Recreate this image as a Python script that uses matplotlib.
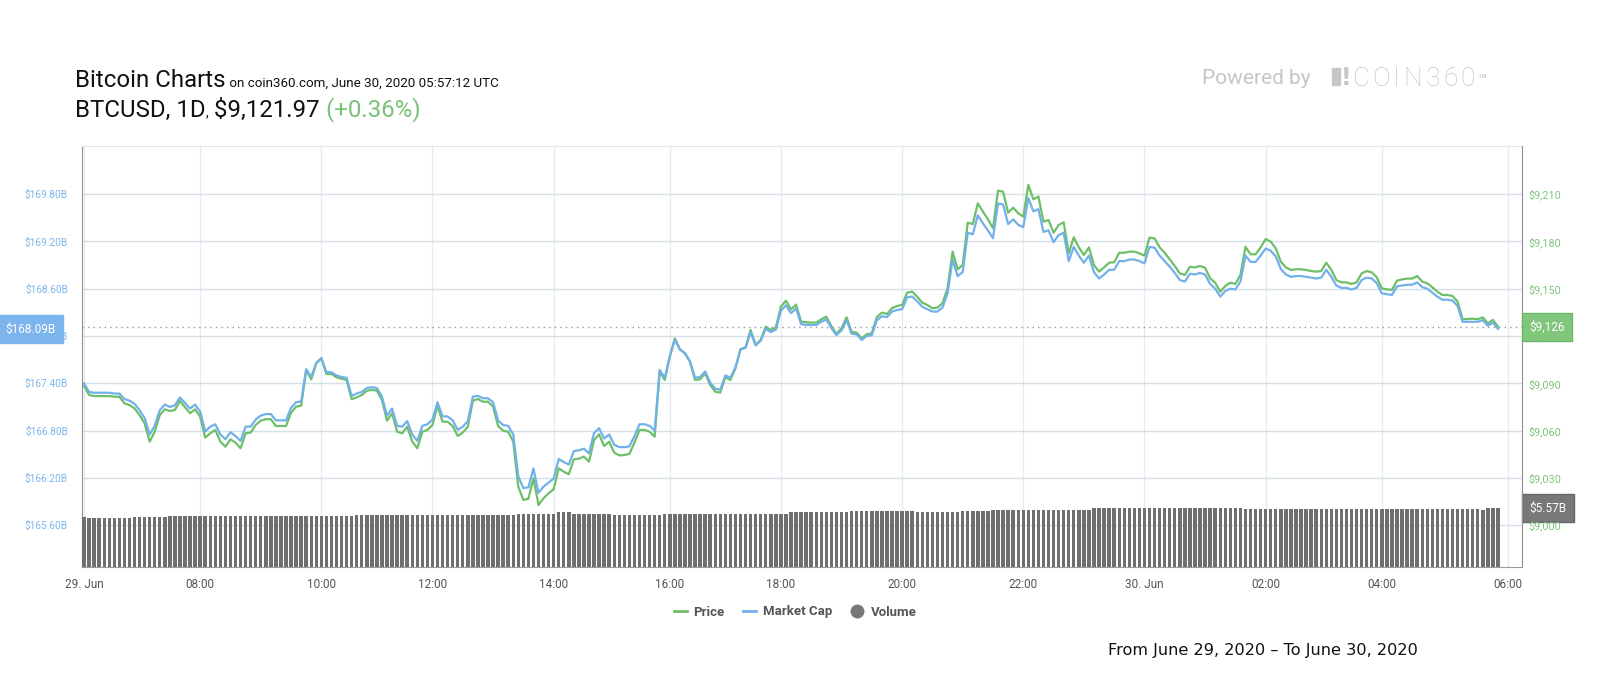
import numpy as np
import matplotlib
matplotlib.use("Agg")
import matplotlib.pyplot as plt
from matplotlib.patches import Rectangle
from matplotlib.transforms import blended_transform_factory

# BTCUSD price (USD), 5-minute points, 29 Jun ~06:00 -> 30 Jun 05:57
price = [
    9088.3, 9082.6, 9081.9, 9081.9, 9081.9, 9081.9, 9081.5, 9081.5, 9077.3, 9076.2,
    9074.1, 9069.9, 9064.6, 9053.0, 9059.3, 9069.9, 9073.5, 9072.4, 9073.1, 9078.8,
    9074.8, 9071.0, 9073.5, 9068.8, 9055.5, 9058.3, 9060.4, 9053.0, 9049.8, 9054.5,
    9052.3, 9048.8, 9058.3, 9058.7, 9063.6, 9066.3, 9067.2, 9067.2, 9062.9, 9062.9,
    9062.9, 9071.4, 9075.2, 9075.8, 9098.4, 9092.5, 9102.7, 9105.9, 9095.9, 9095.9,
    9093.8, 9092.9, 9092.1, 9079.9, 9081.1, 9082.6, 9085.3, 9085.8, 9085.3, 9079.4,
    9066.3, 9071.0, 9059.3, 9058.3, 9062.5, 9053.0, 9048.8, 9059.3, 9060.4, 9063.6,
    9075.6, 9065.6, 9065.6, 9062.9, 9056.6, 9058.7, 9062.5, 9079.0, 9080.0, 9078.3,
    9078.3, 9075.2, 9062.9, 9059.9, 9059.3, 9053.0, 9024.4, 9016.0, 9016.8, 9029.8,
    9012.8, 9017.1, 9020.2, 9022.8, 9036.1, 9033.9, 9032.3, 9041.8, 9042.2, 9043.5,
    9040.3, 9054.0, 9057.6, 9050.2, 9053.0, 9046.0, 9044.3, 9044.5, 9045.2, 9052.3,
    9060.4, 9060.4, 9059.3, 9056.1, 9097.4, 9092.1, 9106.9, 9118.5, 9111.6, 9109.0,
    9103.7, 9092.1, 9092.5, 9096.3, 9088.9, 9084.7, 9084.1, 9093.8, 9092.1, 9099.5,
    9111.6, 9112.8, 9123.8, 9114.3, 9117.5, 9125.9, 9123.8, 9125.5, 9138.6, 9142.4,
    9136.9, 9139.9, 9129.1, 9128.7, 9128.5, 9128.5, 9130.6, 9132.2, 9126.3, 9121.3,
    9124.9, 9131.9, 9122.7, 9122.1, 9118.5, 9121.1, 9121.7, 9131.9, 9134.8, 9134.0,
    9137.6, 9139.0, 9139.7, 9147.5, 9148.1, 9144.9, 9141.1, 9139.7, 9137.6, 9138.0,
    9140.7, 9150.2, 9173.5, 9162.3, 9165.0, 9191.9, 9191.0, 9204.1, 9198.9, 9194.0,
    9188.3, 9212.2, 9211.5, 9198.2, 9201.4, 9197.8, 9195.7, 9215.8, 9206.7, 9208.4,
    9192.5, 9193.6, 9185.5, 9190.4, 9192.1, 9172.4, 9182.6, 9176.2, 9171.4, 9176.2,
    9165.0, 9160.8, 9163.5, 9166.5, 9166.7, 9172.8, 9172.8, 9173.5, 9173.5, 9172.4,
    9170.9, 9182.4, 9181.9, 9176.2, 9172.8, 9168.6, 9164.4, 9159.7, 9158.7, 9163.9,
    9163.5, 9164.4, 9163.3, 9156.6, 9153.8, 9148.1, 9151.7, 9153.8, 9153.0, 9158.7,
    9176.6, 9171.8, 9171.8, 9176.2, 9181.5, 9179.8, 9175.6, 9167.1, 9163.5, 9161.9,
    9162.3, 9162.3, 9161.9, 9161.2, 9160.8, 9161.2, 9166.5, 9161.9, 9155.5, 9154.0,
    9154.0, 9153.0, 9154.0, 9159.7, 9161.2, 9160.4, 9157.2, 9150.2, 9149.6, 9149.2,
    9155.1, 9155.9, 9156.4, 9156.4, 9158.0, 9154.5, 9153.4, 9150.9, 9148.1, 9146.0,
    9146.0, 9145.4, 9141.8, 9130.6, 9130.8, 9131.0, 9130.6, 9131.8, 9128.0, 9130.2,
    9125.9,
]

# market cap (billion USD), same points
mcap = [
    167.40, 167.29, 167.28, 167.28, 167.28, 167.28, 167.27, 167.27, 167.20, 167.18,
    167.14, 167.06, 166.96, 166.75, 166.86, 167.06, 167.13, 167.10, 167.12, 167.22,
    167.15, 167.08, 167.13, 167.04, 166.79, 166.85, 166.88, 166.75, 166.69, 166.78,
    166.73, 166.67, 166.85, 166.85, 166.94, 166.99, 167.01, 167.01, 166.93, 166.93,
    166.93, 167.09, 167.16, 167.17, 167.58, 167.48, 167.66, 167.72, 167.54, 167.54,
    167.50, 167.48, 167.47, 167.24, 167.27, 167.29, 167.34, 167.35, 167.34, 167.23,
    166.99, 167.08, 166.86, 166.85, 166.92, 166.75, 166.67, 166.86, 166.88, 166.94,
    167.16, 166.98, 166.98, 166.93, 166.81, 166.85, 166.92, 167.23, 167.24, 167.21,
    167.21, 167.16, 166.93, 166.87, 166.86, 166.75, 166.22, 166.07, 166.08, 166.32,
    166.01, 166.09, 166.14, 166.19, 166.44, 166.40, 166.37, 166.54, 166.55, 166.57,
    166.51, 166.77, 166.83, 166.70, 166.75, 166.62, 166.59, 166.59, 166.60, 166.73,
    166.88, 166.88, 166.86, 166.80, 167.57, 167.47, 167.74, 167.95, 167.83, 167.78,
    167.68, 167.47, 167.48, 167.55, 167.41, 167.33, 167.32, 167.50, 167.47, 167.60,
    167.83, 167.85, 168.05, 167.88, 167.94, 168.09, 168.05, 168.08, 168.32, 168.39,
    168.29, 168.35, 168.15, 168.14, 168.14, 168.14, 168.18, 168.21, 168.10, 168.01,
    168.07, 168.20, 168.03, 168.02, 167.95, 168.00, 168.01, 168.20, 168.25, 168.24,
    168.31, 168.33, 168.34, 168.49, 168.50, 168.44, 168.37, 168.34, 168.31, 168.31,
    168.36, 168.54, 168.97, 168.76, 168.81, 169.31, 169.29, 169.53, 169.43, 169.34,
    169.24, 169.68, 169.67, 169.42, 169.48, 169.41, 169.38, 169.75, 169.58, 169.61,
    169.32, 169.34, 169.19, 169.28, 169.31, 168.95, 169.13, 169.02, 168.93, 169.02,
    168.81, 168.73, 168.78, 168.84, 168.84, 168.95, 168.95, 168.97, 168.97, 168.95,
    168.92, 169.13, 169.12, 169.02, 168.95, 168.88, 168.80, 168.71, 168.69, 168.79,
    168.78, 168.80, 168.78, 168.66, 168.60, 168.50, 168.57, 168.60, 168.59, 168.69,
    169.02, 168.94, 168.94, 169.02, 169.11, 169.08, 169.01, 168.85, 168.78, 168.75,
    168.76, 168.76, 168.75, 168.74, 168.73, 168.74, 168.84, 168.75, 168.64, 168.61,
    168.61, 168.59, 168.61, 168.71, 168.74, 168.73, 168.67, 168.54, 168.53, 168.52,
    168.63, 168.64, 168.65, 168.65, 168.68, 168.62, 168.60, 168.55, 168.50, 168.46,
    168.46, 168.45, 168.38, 168.18, 168.18, 168.18, 168.18, 168.20, 168.13, 168.17,
    168.09,
]

# 24h volume (billion USD), as runs of equal bars
vol_levels = [5.33, 5.30, 5.33, 5.36, 5.39, 5.41, 5.43, 5.47, 5.42, 5.39, 5.42, 5.43,
              5.47, 5.50, 5.47, 5.50, 5.52, 5.57, 5.54, 5.52, 5.57]
vol_counts = [1, 9, 7, 37, 32, 2, 6, 3, 8, 10, 3, 22, 12, 13, 9, 6, 20, 30, 47, 1, 3]
volume = np.repeat(vol_levels, vol_counts)

tick_idx = [0, 23, 47, 69, 93, 116, 138, 162, 186, 210, 234, 257, 282]
tick_lab = ["29. Jun", "08:00", "10:00", "12:00", "14:00", "16:00", "18:00",
            "20:00", "22:00", "30. Jun", "02:00", "04:00", "06:00"]
cap_ticks = [165.6, 166.2, 166.8, 167.4, 168.0, 168.6, 169.2, 169.8]
price_ticks = [9000, 9030, 9060, 9090, 9120, 9150, 9180, 9210]

GREEN = "#6dbf68"
BLUE = "#72b0ea"
GRAY_BAR = "#6f6f6f"
LOGO = "#c6c6c6"

x = np.arange(len(price))

fig = plt.figure(figsize=(16, 7), dpi=100)
W, H = 1600.0, 700.0
AXW = 1521.7 - 82
rect = [82 / W, 1 - 566.5 / H, AXW / W, (566.5 - 146) / H]

ax = fig.add_axes(rect)          # grid + left (market cap) axis
axv = ax.twinx()                 # volume
axp = ax.twinx()                 # price
axc = ax.twinx()                 # market cap line on top

xlim = (-0.4, 284.7)
cap_lim = (165.076, 170.41)
price_lim = (8973.8, 9240.5)
for a in (ax, axv, axp, axc):
    a.set_xlim(*xlim)
    for s in a.spines.values():
        s.set_visible(False)
    a.tick_params(length=0)

ax.set_ylim(*cap_lim)
axc.set_ylim(*cap_lim)
axp.set_ylim(*price_lim)
axv.set_ylim(4.0, 15.35)

ax.set_yticks(cap_ticks)
ax.set_yticklabels(["$%.2fB" % v for v in cap_ticks], family="Roboto",
                   fontsize=7.3, color="#7cb5ec")
ax.tick_params(axis="y", pad=10)
ax.set_xticks(tick_idx)
ax.set_xticklabels(tick_lab, family=["Liberation Sans Narrow", "Roboto"],
                   fontsize=8.5, color="#555555")
ax.tick_params(axis="x", pad=8)
ax.grid(axis="y", color="#d5dfe7", lw=1)
ax.grid(axis="x", color="#e6ebf0", lw=1)
ax.set_axisbelow(True)
ax.spines["left"].set_visible(True)
ax.spines["left"].set_color("#909090")
ax.spines["bottom"].set_visible(True)
ax.spines["bottom"].set_color("#9a9a9a")
ax.spines["top"].set_visible(True)
ax.spines["top"].set_color("#dfe6ec")

axv.bar(x, volume, width=0.68, color=GRAY_BAR, edgecolor="none")
axv.set_yticks([])

axp.plot(x, price, color=GREEN, lw=1.6, solid_joinstyle="round")
axp.axhline(price[-1], color="#8a96a3", lw=1, ls=(0, (1, 3)))
axp.set_yticks(price_ticks)
axp.set_yticklabels(["${:,}".format(v) for v in price_ticks], family="Roboto",
                    fontsize=7.8, color="#7fc47b")
axp.tick_params(axis="y", pad=5)
axp.spines["right"].set_visible(True)
axp.spines["right"].set_color("#909090")

axc.plot(x, mcap, color=BLUE, lw=1.6, solid_joinstyle="round")
axc.set_yticks([])

# current value flags
FS = 8.5
pad_px = 0.64 * FS * 100 / 72
flag = dict(family="Roboto", fontsize=FS, color="white", zorder=10, clip_on=False,
            va="center")
tr_l = blended_transform_factory(ax.transAxes, ax.transData)
ax.text((63 - pad_px - 82) / AXW, mcap[-1], "$%.2fB" % mcap[-1], transform=tr_l,
        ha="right", bbox=dict(boxstyle="square,pad=0.64", fc="#7cb5ec", ec="#7cb5ec"),
        **flag)
tr_p = blended_transform_factory(axp.transAxes, axp.transData)
axp.text(1 + pad_px / AXW, price[-1], "${:,.0f}".format(price[-1]), transform=tr_p,
         ha="left", bbox=dict(boxstyle="square,pad=0.64", fc="#80c67b", ec="#6db868"),
         **flag)
tr_v = blended_transform_factory(axv.transAxes, axv.transData)
axv.text(1 + pad_px / AXW, volume[-1], "$%.2fB" % volume[-1], transform=tr_v,
         ha="left", bbox=dict(boxstyle="square,pad=0.64", fc="#787878", ec="#666666"),
         **flag)

# header texts placed one after another
renderer = fig.canvas.get_renderer()


def chain(parts, x0, y0, track=0, **kw):
    xp = x0
    for txt, size, col in parts:
        t = fig.text(xp / W, 1 - y0 / H, txt, fontsize=size, color=col,
                     va="baseline", ha="left", **kw)
        bb = t.get_window_extent(renderer)
        xp = xp + bb.width + track
    return xp


chain([("Bitcoin Charts", 17.3, "#111111"),
       (" on coin360.com, June 30, 2020 05:57:12 UTC", 9.6, "#111111")], 75, 87,
      family="Roboto")
chain([("BTCUSD, 1D", 17.3, "#111111"), (",", 10, "#111111"),
       (" $9,121.97", 17.3, "#111111"), (" (+0.36%)", 17.3, "#79c277")], 75, 116.5,
      family="Roboto")

chain([("Powered by", 15, LOGO)], 1202, 84.5, family="Roboto")
# logo: block + exclamation, then the wordmark
fig.patches.append(Rectangle((1332 / W, 1 - 84.5 / H), 8 / W, 16 / H, color=LOGO,
                             transform=fig.transFigure, figure=fig))
fig.text(1341 / W, 1 - 85 / H, "!", fontsize=17, color=LOGO, family="DejaVu Sans",
         weight="bold", va="baseline")
xe = chain([(c, 19, LOGO) for c in "COIN360"], 1352, 85.5, track=3.2,
           family="Roboto", weight="light")
fig.text((xe - 1) / W, 1 - 85 / H, "\u2122", fontsize=11, color=LOGO, family="Roboto",
         va="baseline")

# legend
fig.legend(handles=[
    plt.Line2D([], [], color=GREEN, lw=2),
    plt.Line2D([], [], color=BLUE, lw=2),
    plt.Line2D([], [], color="#777777", marker="o", ls="none", markersize=9)],
    labels=["Price", "Market Cap", "Volume"], loc="center", ncol=3,
    bbox_to_anchor=(795 / W, 1 - 612 / H), frameon=False, handlelength=1.0,
    handletextpad=0.5, columnspacing=1.4,
    prop=dict(family=["Liberation Sans Narrow", "Roboto"], weight="bold", size=9.5))
for t in fig.legends[0].get_texts():
    t.set_color("#555555")

fig.text(1108 / W, 1 - 651 / H, "From June 29, 2020 \u2013 To June 30, 2020",
         family="DejaVu Sans", fontsize=11.6, color="#111111", va="center", ha="left")

fig.savefig("out.png", dpi=100)
